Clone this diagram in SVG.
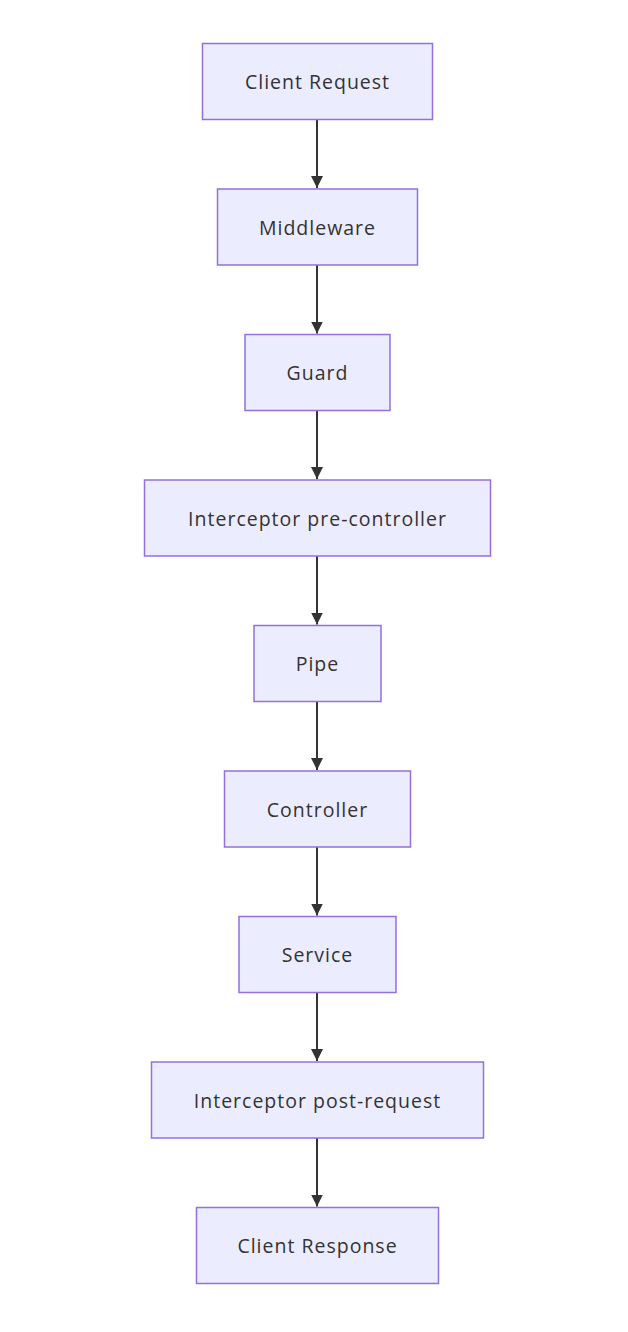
<svg xmlns="http://www.w3.org/2000/svg" width="628" height="1332" viewBox="0 0 628 1332">
<defs>
<style>
.node rect{fill:#ECECFF;stroke:#9370DB;stroke-width:1.5}
.node text{font-family:"Open Sans","DejaVu Sans",sans-serif;font-size:19.5px;letter-spacing:1px;fill:#333;text-anchor:middle;dominant-baseline:central}
.edge{stroke:#333;stroke-width:2;fill:none}
</style>
<marker id="arrow" viewBox="0 0 10 10" refX="10" refY="5" markerWidth="6" markerHeight="6" markerUnits="strokeWidth" orient="auto">
<path d="M0,0 L10,5 L0,10 z" fill="#333"/>
</marker>
</defs>
<rect width="628" height="1332" fill="#fff"/>
<g id="edges">
<path class="edge" d="M317,119.5 V188" marker-end="url(#arrow)"/>
<path class="edge" d="M317,265 V333.5" marker-end="url(#arrow)"/>
<path class="edge" d="M317,410.5 V479" marker-end="url(#arrow)"/>
<path class="edge" d="M317,556 V624.5" marker-end="url(#arrow)"/>
<path class="edge" d="M317,701.5 V770" marker-end="url(#arrow)"/>
<path class="edge" d="M317,847 V915.5" marker-end="url(#arrow)"/>
<path class="edge" d="M317,992.5 V1061" marker-end="url(#arrow)"/>
<path class="edge" d="M317,1138 V1206.5" marker-end="url(#arrow)"/>
</g>
<g id="n1" class="node"><rect x="202.5" y="43.5" width="230" height="76"/><text x="317.5" y="81.5">Client Request</text></g>
<g id="n2" class="node"><rect x="217.5" y="189" width="200" height="76"/><text x="317.5" y="227">Middleware</text></g>
<g id="n3" class="node"><rect x="245" y="334.5" width="145" height="76"/><text x="317.5" y="372.5">Guard</text></g>
<g id="n4" class="node"><rect x="144.5" y="480" width="346" height="76"/><text x="317.5" y="518">Interceptor pre-controller</text></g>
<g id="n5" class="node"><rect x="254" y="625.5" width="127" height="76"/><text x="317.5" y="663.5">Pipe</text></g>
<g id="n6" class="node"><rect x="224.5" y="771" width="186" height="76"/><text x="317.5" y="809">Controller</text></g>
<g id="n7" class="node"><rect x="239" y="916.5" width="157" height="76"/><text x="317.5" y="954.5">Service</text></g>
<g id="n8" class="node"><rect x="151.5" y="1062" width="332" height="76"/><text x="317.5" y="1100">Interceptor post-request</text></g>
<g id="n9" class="node"><rect x="196.5" y="1207.5" width="242" height="76"/><text x="317.5" y="1245.5">Client Response</text></g>
</svg>
